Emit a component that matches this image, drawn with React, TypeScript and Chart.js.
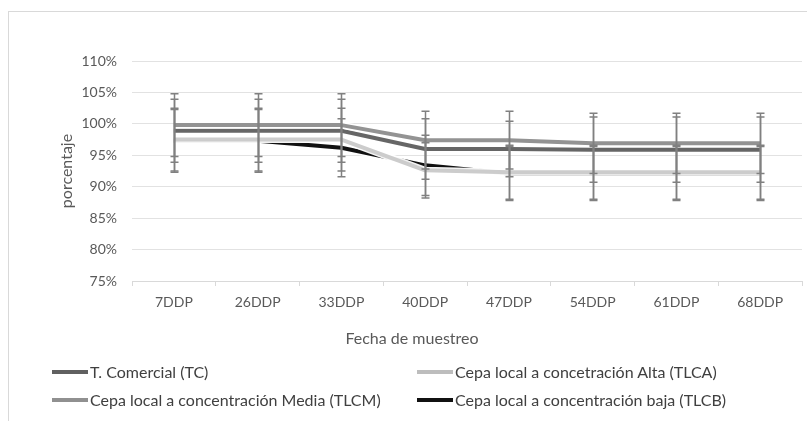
import React, { useEffect, useRef } from 'react';
import { Chart, registerables } from 'chart.js';

Chart.register(...registerables);

// ---- Data -------------------------------------------------------------
const CATEGORIES = ['7DDP', '26DDP', '33DDP', '40DDP', '47DDP', '54DDP', '61DDP', '68DDP'];

const SERIES_NAMES = [
  'T. Comercial (TC)',
  'Cepa local a concetración Alta (TLCA)',
  'Cepa local a concentración Media (TLCM)',
  'Cepa local a concentración baja (TLCB)',
];

const TC = [98.9, 98.9, 98.9, 96.0, 96.0, 95.9, 95.9, 95.9];
const TLCA = [97.5, 97.5, 97.5, 92.6, 92.3, 92.3, 92.3, 92.3];
const TLCM = [99.8, 99.8, 99.8, 97.4, 97.4, 96.9, 96.9, 96.9];
const TLCB = [97.3, 97.3, 96.2, 93.4, 92.1, 92.1, 92.1, 92.1];

const TC_ERR = [5.0, 5.0, 5.0, 4.8, 4.4, 5.2, 5.2, 5.2];
const TLCA_ERR = [5.0, 5.0, 5.0, 4.4, 4.3, 4.3, 4.3, 4.3];
const TLCM_ERR = [5.0, 5.0, 5.0, 4.6, 4.6, 4.8, 4.8, 4.8];
const TLCB_ERR = [5.0, 5.0, 4.6, 4.8, 4.3, 4.3, 4.3, 4.3];

const Y_MIN = 75;
const Y_MAX = 110;
const Y_STEP = 5;

const X_TITLE = 'Fecha de muestreo';
const Y_TITLE = 'porcentaje';

// ---- Styles ----------------------------------------------------------
const COLORS = ['#666666', '#cccccc', '#939393', '#111111'];
const LEGEND_COLORS = ['#606060', '#bdbdbd', '#909090', '#111111'];
const DRAW_ORDER = [3, 1, 2, 4];
const FONT = "Lato, 'Open Sans', sans-serif";

const outlinePlugin = {
  id: 'lineOutline',
  beforeDatasetDraw(chart: any, args: any) {
    const meta = args.meta;
    const pts = meta.data;
    if (!pts || !pts.length) return;
    const ds = chart.data.datasets[args.index];
    const { ctx, chartArea } = chart;
    ctx.save();
    ctx.beginPath();
    ctx.rect(chartArea.left, chartArea.top, chartArea.right - chartArea.left, chartArea.bottom - chartArea.top);
    ctx.clip();
    ctx.beginPath();
    pts.forEach((p: any, i: number) => {
      if (i === 0) ctx.moveTo(p.x, p.y);
      else ctx.lineTo(p.x, p.y);
    });
    ctx.strokeStyle = 'rgba(255,255,255,0.95)';
    ctx.lineWidth = (ds.borderWidth || 3) + 3;
    ctx.lineJoin = 'round';
    ctx.lineCap = 'butt';
    ctx.stroke();
    ctx.restore();
  },
};

const errorBarPlugin = {
  id: 'errorBars',
  afterDatasetsDraw(chart: any) {
    const { ctx } = chart;
    const yScale = chart.scales.y;
    ctx.save();
    ctx.strokeStyle = '#808080';
    ctx.lineWidth = 1.5;
    chart.data.datasets.forEach((ds: any, i: number) => {
      const meta = chart.getDatasetMeta(i);
      const errs: number[] = ds.errors || [];
      meta.data.forEach((pt: any, j: number) => {
        const v = ds.data[j];
        const e = errs[j];
        if (v == null || e == null) return;
        const x = Math.round(pt.x) + 0.5;
        const yt = yScale.getPixelForValue(v + e);
        const yb = yScale.getPixelForValue(v - e);
        ctx.beginPath();
        ctx.moveTo(x, yt);
        ctx.lineTo(x, yb);
        ctx.moveTo(x - 4, yt);
        ctx.lineTo(x + 4, yt);
        ctx.moveTo(x - 4, yb);
        ctx.lineTo(x + 4, yb);
        ctx.stroke();
      });
    });
    ctx.restore();
  },
};

export default function App() {
  const canvasRef = useRef<HTMLCanvasElement>(null);

  useEffect(() => {
    if (!canvasRef.current) return;
    Chart.defaults.font.family = FONT;
    const seriesValues = [TC, TLCA, TLCM, TLCB];
    const seriesErrors = [TC_ERR, TLCA_ERR, TLCM_ERR, TLCB_ERR];
    const chart = new Chart(canvasRef.current, {
      type: 'line',
      data: {
        labels: CATEGORIES,
        datasets: SERIES_NAMES.map((name, i) => ({
          label: name,
          data: seriesValues[i],
          errors: seriesErrors[i],
          borderColor: COLORS[i],
          backgroundColor: COLORS[i],
          borderWidth: 4,
          pointRadius: 0,
          fill: false,
          order: DRAW_ORDER[i],
          tension: 0,
        })) as any,
      },
      options: {
        animation: false,
        responsive: true,
        maintainAspectRatio: false,
        events: [],
        layout: { padding: { top: 61, right: 5, bottom: 0, left: 0 } },
        plugins: {
          legend: { display: false },
          tooltip: { enabled: false },
        },
        elements: {
          line: { borderJoinStyle: 'round', borderCapStyle: 'butt' },
          point: { radius: 0 },
        },
        scales: {
          x: {
            offset: true,
            grid: {
              offset: true,
              drawOnChartArea: false,
              drawTicks: true,
              tickLength: 5,
              color: '#d9d9d9',
            },
            border: { color: '#d9d9d9' },
            ticks: {
              color: '#595959',
              font: { size: 14 },
              padding: 8,
              maxRotation: 0,
              autoSkip: false,
            },
            afterFit: (s: any) => {
              s.height = 140;
            },
          },
          y: {
            min: Y_MIN,
            max: Y_MAX,
            ticks: {
              stepSize: Y_STEP,
              color: '#595959',
              font: { size: 14 },
              padding: 15,
              callback: (v: any) => `${v}%`,
            },
            grid: { color: '#e2e2e2', drawTicks: false },
            border: { display: false },
            title: {
              display: true,
              text: Y_TITLE,
              color: '#595959',
              font: { size: 16 },
              padding: { top: 57, bottom: 0 },
            },
            afterFit: (s: any) => {
              s.width = 132;
            },
          },
        },
      } as any,
      plugins: [outlinePlugin, errorBarPlugin],
    });
    return () => chart.destroy();
  }, []);

  const legendPos = [
    { lineLeft: 52, top: 372 },
    { lineLeft: 417, top: 372 },
    { lineLeft: 52, top: 400 },
    { lineLeft: 417, top: 400 },
  ];

  return (
    <div
      style={{
        position: 'fixed',
        left: 0,
        top: 0,
        width: 807,
        height: 421,
        background: '#ffffff',
        overflow: 'hidden',
        fontFamily: FONT,
      }}
    >
      <canvas ref={canvasRef} style={{ position: 'absolute', left: 0, top: 0 }} />
      <div
        style={{
          position: 'absolute',
          left: 8,
          top: 11,
          right: -5,
          bottom: -5,
          borderLeft: '1px solid #d9d9d9',
          borderTop: '1px solid #d9d9d9',
          pointerEvents: 'none',
        }}
      />
      <div
        style={{
          position: 'absolute',
          left: 412,
          top: 328,
          transform: 'translateX(-50%)',
          fontSize: 16,
          lineHeight: '20px',
          color: '#595959',
          whiteSpace: 'nowrap',
        }}
      >
        {X_TITLE}
      </div>
      {SERIES_NAMES.map((name, i) => (
        <div
          key={name}
          style={{
            position: 'absolute',
            left: legendPos[i].lineLeft,
            top: legendPos[i].top - 10,
            height: 20,
            display: 'flex',
            alignItems: 'center',
            whiteSpace: 'nowrap',
          }}
        >
          <span
            style={{
              display: 'inline-block',
              width: 36,
              height: 4,
              background: LEGEND_COLORS[i],
              marginRight: 2,
            }}
          />
          <span style={{ fontSize: 16, lineHeight: '20px', color: '#404040' }}>{name}</span>
        </div>
      ))}
    </div>
  );
}
